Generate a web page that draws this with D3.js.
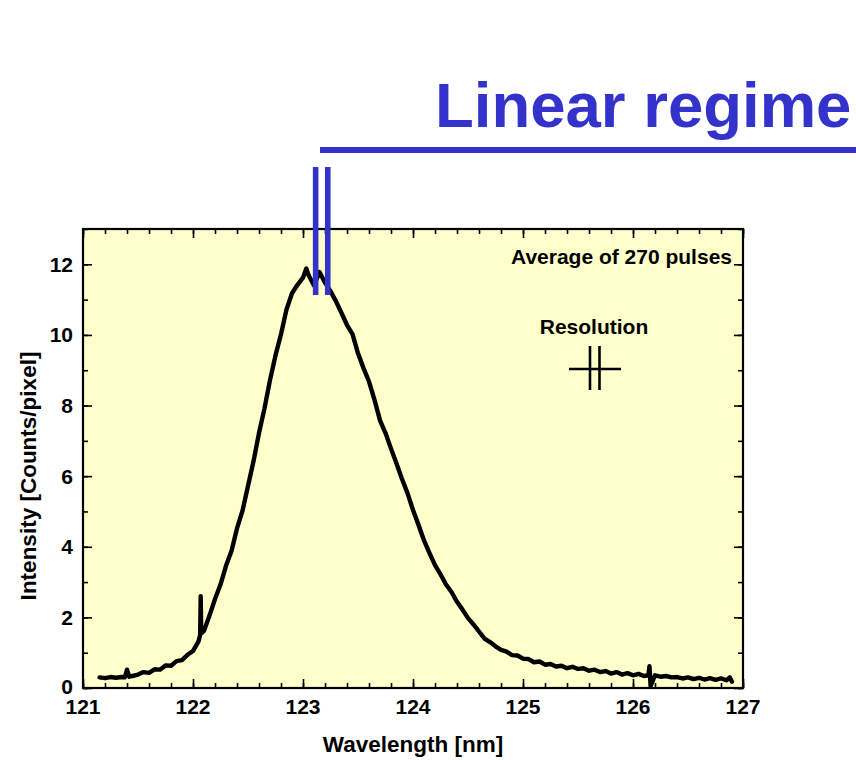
<!DOCTYPE html>
<html>
<head>
<meta charset="utf-8">
<script src="https://cdn.jsdelivr.net/npm/d3@7"></script>
<style>
  html, body { margin: 0; padding: 0; background: #ffffff; }
  svg { display: block; font-family: "Liberation Sans", Arial, Helvetica, sans-serif; }
</style>
</head>
<body>
<svg id="chart" width="856" height="760"></svg>
<script>
// Averaged spectrum: wavelength (nm) and intensity (counts/pixel)
const wavelength = [
  121.15,121.20,121.25,121.30,121.35,121.38,121.40,121.42,121.45,121.50,121.55,121.60,121.65,121.70,121.75,121.80,
  121.85,121.90,121.95,122.00,122.05,122.065,122.07,122.075,122.10,122.15,122.20,122.25,122.30,122.35,122.40,122.45,
  122.50,122.55,122.60,122.65,122.70,122.75,122.80,122.85,122.90,122.95,123.00,123.03,123.05,123.10,123.15,123.20,
  123.25,123.30,123.35,123.40,123.45,123.50,123.55,123.60,123.65,123.70,123.75,123.80,123.85,123.90,123.95,124.00,
  124.05,124.10,124.15,124.20,124.25,124.30,124.35,124.40,124.45,124.50,124.55,124.60,124.65,124.70,124.75,124.80,
  124.85,124.90,124.95,125.00,125.05,125.10,125.15,125.20,125.25,125.30,125.35,125.40,125.45,125.50,125.55,125.60,
  125.65,125.70,125.75,125.80,125.85,125.90,125.95,126.00,126.05,126.10,126.14,126.15,126.16,126.20,126.25,126.30,
  126.35,126.40,126.45,126.50,126.55,126.60,126.65,126.70,126.75,126.80,126.85,126.88,126.90
];
const intensity = [
  0.30,0.28,0.31,0.29,0.31,0.30,0.52,0.32,0.34,0.38,0.45,0.43,0.53,0.52,0.64,0.63,
  0.76,0.79,0.94,1.05,1.32,1.50,2.60,1.55,1.62,2.05,2.52,2.93,3.46,3.88,4.52,5.02,
  5.72,6.42,7.22,7.92,8.72,9.42,10.02,10.72,11.18,11.42,11.62,11.88,11.70,11.40,11.78,11.48,
  11.24,10.95,10.62,10.28,10.02,9.48,9.06,8.68,8.16,7.58,7.22,6.78,6.36,5.92,5.52,5.04,
  4.62,4.18,3.82,3.48,3.22,2.93,2.72,2.44,2.22,1.98,1.80,1.60,1.40,1.30,1.18,1.08,
  1.03,0.93,0.92,0.83,0.82,0.73,0.75,0.66,0.68,0.61,0.63,0.56,0.60,0.54,0.56,0.49,
  0.52,0.45,0.48,0.41,0.45,0.38,0.42,0.36,0.40,0.34,0.36,0.62,0.05,0.36,0.32,0.34,
  0.30,0.31,0.27,0.30,0.25,0.29,0.24,0.28,0.23,0.27,0.22,0.30,0.18
];

// Axis ticks
const xMajorTicks = [121, 122, 123, 124, 125, 126, 127];
const xMinorTicks = d3.range(121, 127.001, 0.2);
const yMajorTicks = [0, 2, 4, 6, 8, 10, 12];
const yMinorTicks = d3.range(0, 13.001, 1);

// Annotations
const titleText = "Linear regime";
const noteText = "Average of 270 pulses";
const resolutionText = "Resolution";
const xTitle = "Wavelength [nm]";
const yTitle = "Intensity [Counts/pixel]";
const markerWavelengths = [123.115, 123.225];  // blue bars over the peak

const svg = d3.select("#chart");
const plot = { left: 83, top: 229, right: 743, bottom: 688 };

const x = d3.scaleLinear().domain([121, 127]).range([plot.left, plot.right]);
const y = d3.scaleLinear().domain([0, 13]).range([plot.bottom, plot.top]);

// Plot background
svg.append("rect")
  .attr("x", plot.left).attr("y", plot.top)
  .attr("width", plot.right - plot.left).attr("height", plot.bottom - plot.top)
  .attr("fill", "#ffffcc");

// Spectrum curve
const pts = wavelength.map((w, i) => [w, intensity[i]]);
svg.append("path")
  .datum(pts)
  .attr("fill", "none")
  .attr("stroke", "#000")
  .attr("stroke-width", 4.4)
  .attr("stroke-linejoin", "round")
  .attr("stroke-linecap", "round")
  .attr("d", d3.line().x(d => x(d[0])).y(d => y(d[1])));

// Axes with inward ticks on all four sides
function tickAxis(axisFn, scale, ticks, size, transform) {
  const g = svg.append("g").attr("transform", transform)
    .call(axisFn(scale).tickValues(ticks).tickSize(size).tickFormat(""));
  g.select(".domain").remove();
  g.selectAll("line").attr("stroke", "#000").attr("stroke-width", 1.6);
  return g;
}
tickAxis(d3.axisTop, x, xMinorTicks, 5, `translate(0,${plot.bottom})`);
tickAxis(d3.axisTop, x, xMajorTicks, 9, `translate(0,${plot.bottom})`);
tickAxis(d3.axisBottom, x, xMinorTicks, 5, `translate(0,${plot.top})`);
tickAxis(d3.axisBottom, x, xMajorTicks, 9, `translate(0,${plot.top})`);
tickAxis(d3.axisRight, y, yMinorTicks, 5, `translate(${plot.left},0)`);
tickAxis(d3.axisRight, y, yMajorTicks, 9, `translate(${plot.left},0)`);
tickAxis(d3.axisLeft, y, yMinorTicks, 5, `translate(${plot.right},0)`);
tickAxis(d3.axisLeft, y, yMajorTicks, 9, `translate(${plot.right},0)`);

// Frame
svg.append("rect")
  .attr("x", plot.left).attr("y", plot.top)
  .attr("width", plot.right - plot.left).attr("height", plot.bottom - plot.top)
  .attr("fill", "none").attr("stroke", "#000").attr("stroke-width", 2.2);

// Tick labels
svg.append("g").selectAll("text").data(xMajorTicks).join("text")
  .attr("x", d => x(d)).attr("y", plot.bottom + 26)
  .attr("text-anchor", "middle")
  .attr("font-size", 21).attr("font-weight", "bold")
  .text(d => d);
svg.append("g").selectAll("text").data(yMajorTicks).join("text")
  .attr("x", plot.left - 10).attr("y", d => y(d) + (d === 0 ? 5.5 : 7.5))
  .attr("text-anchor", "end")
  .attr("font-size", 21).attr("font-weight", "bold")
  .text(d => d);

// Axis titles
svg.append("text")
  .attr("x", (plot.left + plot.right) / 2).attr("y", 752)
  .attr("text-anchor", "middle")
  .attr("font-size", 22.5).attr("font-weight", "bold")
  .text(xTitle);
svg.append("text")
  .attr("transform", "translate(36,476) rotate(-90)")
  .attr("text-anchor", "middle")
  .attr("font-size", 22.5).attr("font-weight", "bold")
  .text(yTitle);

// In-plot notes
svg.append("text")
  .attr("x", 732).attr("y", 264)
  .attr("text-anchor", "end")
  .attr("font-size", 21).attr("font-weight", "bold")
  .text(noteText);
svg.append("text")
  .attr("x", 594).attr("y", 334)
  .attr("text-anchor", "middle")
  .attr("font-size", 21).attr("font-weight", "bold")
  .text(resolutionText);

// Resolution marker
const res = svg.append("g").attr("stroke", "#000").attr("stroke-width", 2.6);
res.append("line").attr("x1", 569).attr("x2", 621).attr("y1", 369).attr("y2", 369);
res.append("line").attr("x1", 590).attr("x2", 590).attr("y1", 346).attr("y2", 390);
res.append("line").attr("x1", 599.5).attr("x2", 599.5).attr("y1", 346).attr("y2", 390);

// Title with rule
const blue = "#3333cc";
svg.append("text")
  .attr("x", 435).attr("y", 127)
  .attr("font-size", 63.5).attr("font-weight", "bold")
  .attr("fill", blue)
  .text(titleText);
svg.append("rect")
  .attr("x", 320).attr("y", 147).attr("width", 536).attr("height", 6)
  .attr("fill", blue);

// Blue bars above the peak
svg.append("g").selectAll("rect").data(markerWavelengths).join("rect")
  .attr("x", d => x(d) - 2.8).attr("y", 167)
  .attr("width", 5.6).attr("height", 128)
  .attr("fill", blue);
</script>
</body>
</html>
